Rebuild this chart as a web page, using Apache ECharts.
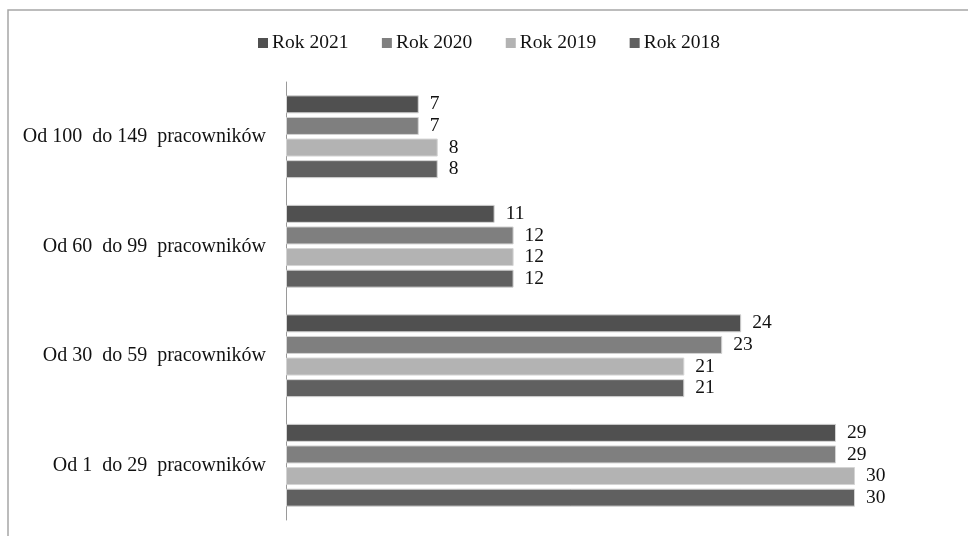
<!DOCTYPE html>
<html>
<head>
<meta charset="utf-8">
<script src="https://cdn.jsdelivr.net/npm/echarts@6/dist/echarts.min.js"></script>
<style>
  html, body { margin: 0; padding: 0; background: #fff; }
  #chart { width: 968px; height: 536px; }
</style>
</head>
<body>
<div id="chart"></div>
<script>
// Company size classes, listed top to bottom
const categories = [
  'Od 100  do 149  pracowników',
  'Od 60  do 99  pracowników',
  'Od 30  do 59  pracowników',
  'Od 1  do 29  pracowników'
];
const years = ['Rok 2021', 'Rok 2020', 'Rok 2019', 'Rok 2018'];
const values2021 = [7, 11, 24, 29];
const values2020 = [7, 12, 23, 29];
const values2019 = [8, 12, 21, 30];
const values2018 = [8, 12, 21, 30];

const seriesValues = [values2021, values2020, values2019, values2018];
const colors = ['#505050', '#7f7f7f', '#b3b3b3', '#606060'];
const font = '"Liberation Serif", "Times New Roman", serif';
const textColor = '#111';

const chart = echarts.init(document.getElementById('chart'), null, { renderer: 'canvas' });

chart.setOption({
  animation: false,
  color: colors,
  textStyle: { fontFamily: font },
  legend: {
    data: years,
    top: 28,
    left: 253,
    itemWidth: 10,
    itemHeight: 10,
    itemGap: 33.5,
    icon: 'rect',
    itemStyle: { borderWidth: 0 },
    textStyle: { fontFamily: font, fontSize: 19.5, color: textColor, padding: [0, 0, 0, -1] }
  },
  graphic: [{
    type: 'rect',
    shape: { x: 8, y: 10, width: 980, height: 560 },
    style: { fill: 'none', stroke: '#a6a6a6', lineWidth: 1.5 },
    silent: true
  }],
  grid: { left: 286, top: 82, width: 569, height: 438 },
  xAxis: {
    type: 'value',
    min: 0,
    max: 30,
    show: false,
    splitLine: { show: false }
  },
  yAxis: {
    type: 'category',
    data: categories,
    inverse: true,
    axisLine: { show: true, lineStyle: { color: '#9a9a9a', width: 1 } },
    axisTick: { show: false },
    axisLabel: { margin: 20, fontFamily: font, fontSize: 20, color: textColor }
  },
  series: years.map((name, i) => ({
    name: name,
    type: 'bar',
    data: seriesValues[i],
    barWidth: 18,
    barGap: '20%',
    itemStyle: { color: colors[i], borderColor: '#d4d4d4', borderWidth: 1 },
    label: {
      show: true,
      position: 'right',
      distance: 11,
      fontFamily: font,
      fontSize: 19.5,
      color: textColor
    }
  }))
});
</script>
</body>
</html>
